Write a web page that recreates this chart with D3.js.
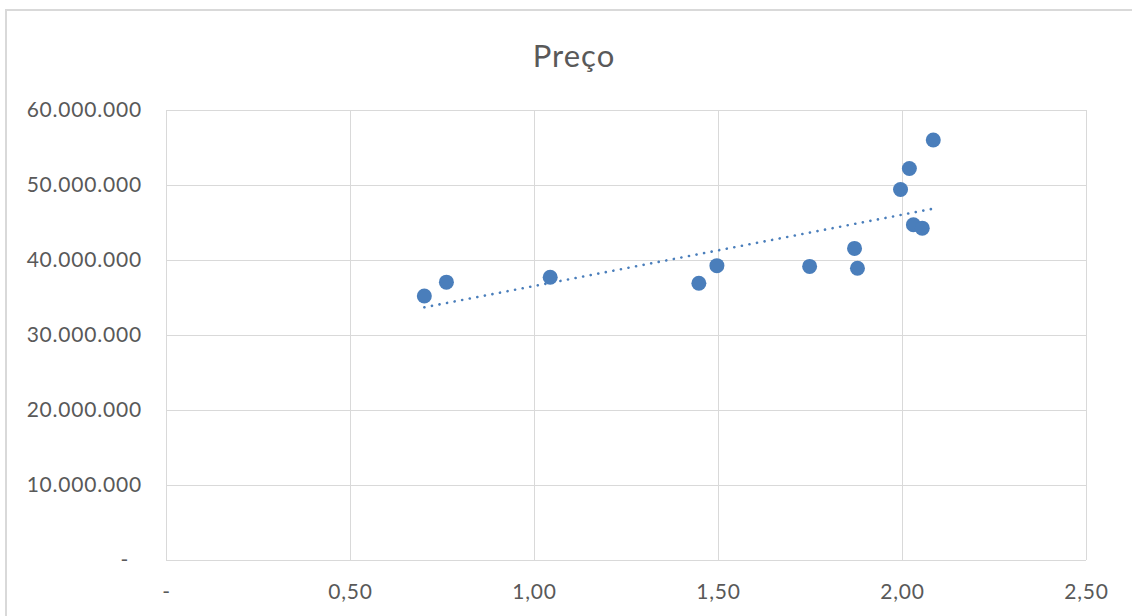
<!DOCTYPE html>
<html>
<head>
<meta charset="utf-8">
<script src="https://cdn.jsdelivr.net/npm/d3@7"></script>
<style>
  html, body { margin: 0; padding: 0; background: #fff; }
  svg text { font-family: Lato, "Open Sans", sans-serif; fill: #595959; }
</style>
</head>
<body>
<svg id="chart" width="1132" height="616"></svg>
<script>
// Ratio (x) vs. price (y)
const xValues = [0.702, 0.762, 1.044, 1.448, 1.497, 1.749, 1.871, 1.879, 1.996, 2.020, 2.031, 2.055, 2.085];
const yValues = [35200000, 37050000, 37700000, 36900000, 39250000, 39150000, 41550000, 38900000, 49400000, 52200000, 44700000, 44250000, 56000000];
const xTicks = [0, 0.5, 1.0, 1.5, 2.0, 2.5];
const yTicks = [0, 10000000, 20000000, 30000000, 40000000, 50000000, 60000000];
const title = "Preço";

const svg = d3.select("#chart");
const plot = { left: 166, right: 1086, top: 110, bottom: 560 };

const x = d3.scaleLinear().domain([0, 2.5]).range([plot.left, plot.right]);
const y = d3.scaleLinear().domain([0, 60000000]).range([plot.bottom, plot.top]);

// outer chart frame (left and top edges)
svg.append("path")
  .attr("d", "M6,616 V10 H1132")
  .attr("fill", "none").attr("stroke", "#d9d9d9").attr("stroke-width", 2);

// title
svg.append("text").attr("x", 574).attr("y", 67)
  .attr("text-anchor", "middle").attr("font-size", 31)
  .attr("letter-spacing", 1).text(title);

const fmtY = v => v === 0 ? "-" : d3.format(",")(v).replace(/,/g, ".");
const fmtX = v => v === 0 ? "-" : d3.format(".2f")(v).replace(".", ",");

// gridlines via axes
const gy = svg.append("g").attr("transform", `translate(${plot.left},0)`)
  .call(d3.axisLeft(y).tickValues(yTicks).tickSize(-(plot.right - plot.left)).tickFormat(""));
gy.select(".domain").remove();
gy.selectAll("line").attr("stroke", "#d9d9d9").attr("stroke-width", 1);

const gx = svg.append("g").attr("transform", `translate(0,${plot.bottom})`)
  .call(d3.axisBottom(x).tickValues(xTicks).tickSize(-(plot.bottom - plot.top)).tickFormat(""));
gx.select(".domain").remove();
gx.selectAll("line").attr("stroke", "#d9d9d9").attr("stroke-width", 1);

// axis labels
const ly = svg.append("g").attr("transform", `translate(${plot.left},0)`)
  .call(d3.axisLeft(y).tickValues(yTicks).tickSize(0).tickPadding(24).tickFormat(fmtY));
ly.select(".domain").remove();
ly.selectAll("text").attr("font-size", 21).attr("letter-spacing", 0.8).attr("fill", "#595959")
  .attr("font-family", "Lato, 'Open Sans', sans-serif");
ly.selectAll("text").filter(d => d === 0).attr("dx", -13);

const lx = svg.append("g").attr("transform", `translate(0,${plot.bottom})`)
  .call(d3.axisBottom(x).tickValues(xTicks).tickSize(0).tickPadding(24).tickFormat(fmtX));
lx.select(".domain").remove();
lx.selectAll("text").attr("font-size", 21).attr("letter-spacing", 0.8).attr("fill", "#595959")
  .attr("font-family", "Lato, 'Open Sans', sans-serif");

// least-squares trendline over the data
const n = xValues.length;
const mx = d3.mean(xValues), my = d3.mean(yValues);
let sxy = 0, sxx = 0;
for (let i = 0; i < n; i++) { sxy += (xValues[i] - mx) * (yValues[i] - my); sxx += (xValues[i] - mx) ** 2; }
const slope = sxy / sxx, intercept = my - slope * mx;
const [x0, x1] = d3.extent(xValues);
svg.append("line")
  .attr("x1", x(x0)).attr("y1", y(intercept + slope * x0))
  .attr("x2", x(x1)).attr("y2", y(intercept + slope * x1))
  .attr("stroke", "#4a7ebb").attr("stroke-width", 2.6)
  .attr("stroke-dasharray", "0.1 7.6").attr("stroke-linecap", "round");

// points
svg.append("g").selectAll("circle")
  .data(xValues.map((v, i) => [v, yValues[i]]))
  .join("circle")
  .attr("cx", d => x(d[0])).attr("cy", d => y(d[1])).attr("r", 7.5)
  .attr("fill", "#4a7ebb");
</script>
</body>
</html>
